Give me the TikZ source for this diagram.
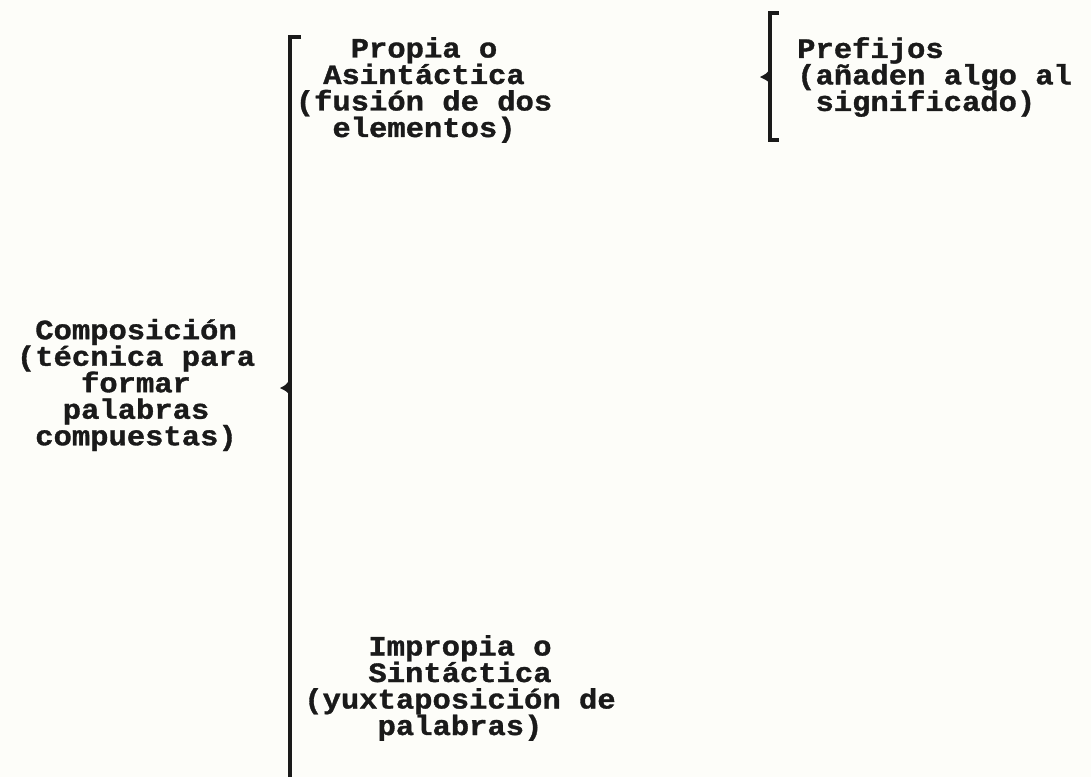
\documentclass[tikz,border=0pt]{standalone}
\usepackage{fontspec}
\usetikzlibrary{calc}
\setmonofont[FakeStretch=1.09, BoldFeatures={FakeBold=1.2}]{Liberation Mono}
\definecolor{paper}{HTML}{FDFDF9}
\definecolor{ink}{HTML}{1A1A1A}
\newcommand\tightlines{\lineskiplimit=-30pt\relax}
\tikzset{
  lbl/.style={font={\ttfamily\bfseries\fontsize{28}{26.5}\selectfont\tightlines}, text=ink, inner sep=0pt, align=center},
  lbll/.style={lbl, align=left},
  brk/.style={draw=ink, line width=3.2pt, line cap=butt, line join=miter},
  ptr/.style={fill=ink, draw=none}
}
\begin{document}
\begin{tikzpicture}[x=1pt,y=-1pt]
\fill[paper] (0,0) rectangle (1091,777);
\useasboundingbox (0,0) rectangle (1091,777);

% texts
\node[lbl] (propia) at (424,90) {Propia o\\Asintáctica\\(fusión de dos\\elementos)};
\node[lbll, anchor=west] (pref) at (797,77) {Prefijos\\(añaden algo al\\\ significado)};
\node[lbl] (comp) at (136,385) {Composición\\(técnica para\\formar\\palabras\\compuestas)};
\node[lbl] (impropia) at (460,688) {Impropia o\\Sintáctica\\(yuxtaposición de\\palabras)};

% big bracket
\coordinate (bTop) at (290,37);
\coordinate (bTopR) at (301,37);
\coordinate (bBot) at (290,777);
\coordinate (bPtr) at (290,388);
\draw[brk] (bTopR) -- (bTop) -- (bBot);
\fill[ptr] ($(bPtr)+(0,-9)$) .. controls ($(bPtr)+(-4,-3)$) .. ($(bPtr)+(-10,0)$) .. controls ($(bPtr)+(-4,3)$) .. ($(bPtr)+(0,7)$) -- cycle;

% small bracket
\coordinate (sTop) at (770,13);
\coordinate (sTopR) at (779,13);
\coordinate (sBot) at (770,140);
\coordinate (sBotR) at (779,140);
\coordinate (sPtr) at (770,77);
\draw[brk] (sTopR) -- (sTop) -- (sBot) -- (sBotR);
\fill[ptr] ($(sPtr)+(0,-8)$) .. controls ($(sPtr)+(-4,-3)$) .. ($(sPtr)+(-10,0)$) .. controls ($(sPtr)+(-4,3)$) .. ($(sPtr)+(0,6)$) -- cycle;
\end{tikzpicture}
\end{document}
